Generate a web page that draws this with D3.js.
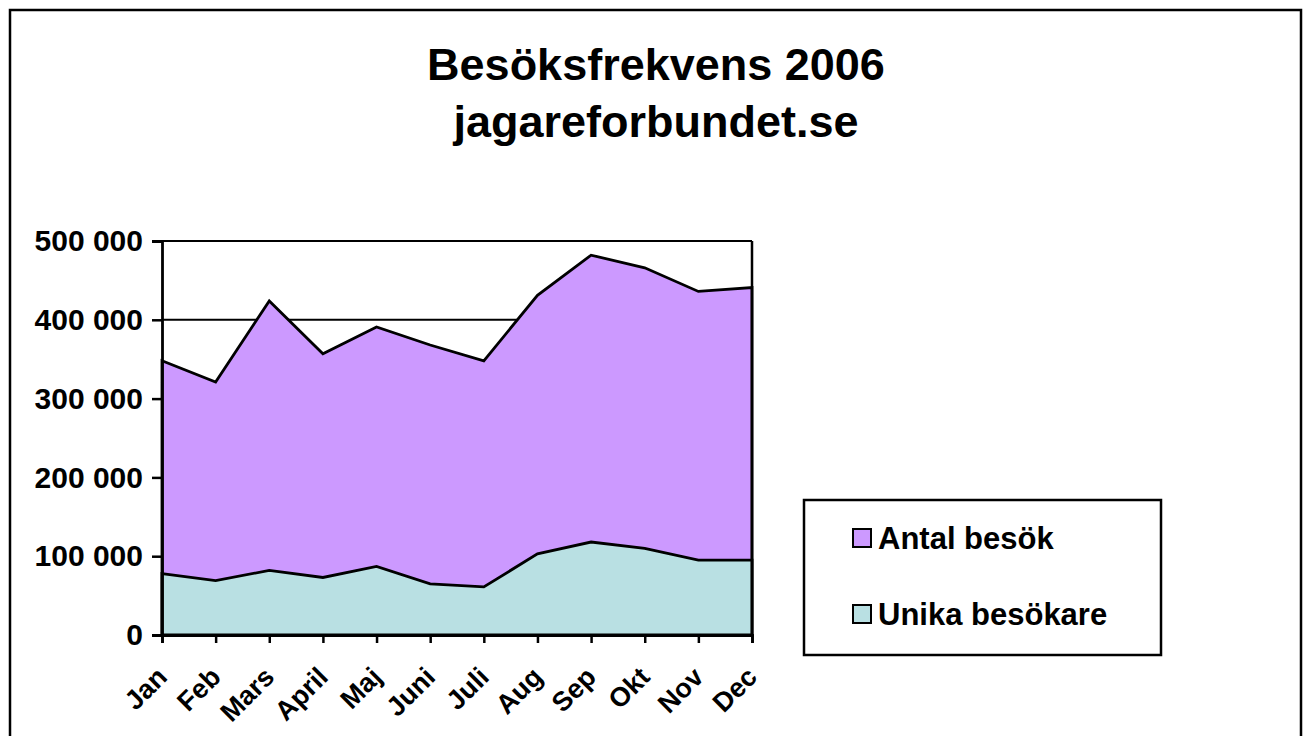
<!DOCTYPE html>
<html>
<head>
<meta charset="utf-8">
<script src="https://cdn.jsdelivr.net/npm/d3@7"></script>
<style>
  body { margin: 0; background: #fff; }
  text { font-family: "Liberation Sans", Arial, sans-serif; font-weight: bold; fill: #000; }
</style>
</head>
<body>
<svg id="chart" width="1308" height="736"></svg>
<script>
// data
var months = ["Jan", "Feb", "Mars", "April", "Maj", "Juni", "Juli", "Aug", "Sep", "Okt", "Nov", "Dec"];
var antalBesok = [348000, 321000, 424000, 357000, 391000, 368000, 348000, 431000, 482000, 466000, 436000, 441000];
var unikaBesokare = [78000, 69000, 82000, 73000, 87000, 65000, 61000, 103000, 118000, 110000, 95000, 95000];
var yTicks = [0, 100000, 200000, 300000, 400000, 500000];
var seriesNames = ["Antal besök", "Unika besökare"];
var seriesColors = ["#cc99ff", "#b9e0e3"];

var svg = d3.select("#chart");

// outer chart border
svg.append("rect")
  .attr("x", 10).attr("y", 10)
  .attr("width", 1291).attr("height", 740)
  .attr("fill", "none").attr("stroke", "#000").attr("stroke-width", 2.5);

// title
svg.append("text").attr("x", 656).attr("y", 80)
  .attr("text-anchor", "middle").style("font-size", "45px")
  .text("Besöksfrekvens 2006");
svg.append("text").attr("x", 656).attr("y", 137)
  .attr("text-anchor", "middle").style("font-size", "45px")
  .text("jagareforbundet.se");

var x = d3.scalePoint().domain(months).range([162, 752]);
var y = d3.scaleLinear().domain([0, 500000]).range([635, 241]);

// gridlines
svg.append("g").selectAll("line").data(yTicks.slice(1)).join("line")
  .attr("x1", 162).attr("x2", 752)
  .attr("y1", d => y(d)).attr("y2", d => y(d))
  .attr("stroke", "#000").attr("stroke-width", 2);

var area = d3.area()
  .x((d, i) => x(months[i]))
  .y0(y(0))
  .y1(d => y(d));

[antalBesok, unikaBesokare].forEach(function(vals, k) {
  svg.append("path")
    .datum(vals)
    .attr("d", d => area(d) + "Z")
    .attr("fill", seriesColors[k])
    .attr("stroke", "#000")
    .attr("stroke-width", 2.8)
    .attr("stroke-linejoin", "miter");
});

// plot area right edge
svg.append("line")
  .attr("x1", 752).attr("x2", 752).attr("y1", 241).attr("y2", 635)
  .attr("stroke", "#000").attr("stroke-width", 2.5);

var fmt = d => d3.format(",")(d).replace(/,/g, " ");

var yAxis = svg.append("g")
  .attr("transform", "translate(162,0)")
  .call(d3.axisLeft(y).tickValues(yTicks).tickSize(10).tickPadding(9).tickFormat(fmt));
yAxis.select(".domain").attr("stroke", "#000").attr("stroke-width", 2.8);
yAxis.selectAll(".tick line").attr("stroke", "#000").attr("stroke-width", 2.5);
yAxis.selectAll("text").style("font-size", "30px").attr("font-family", null);

var xAxis = svg.append("g")
  .attr("transform", "translate(0,635)")
  .call(d3.axisBottom(x).tickSize(8).tickFormat(""));
xAxis.select(".domain").attr("stroke", "#000").attr("stroke-width", 2.8);
xAxis.selectAll(".tick line").attr("stroke", "#000").attr("stroke-width", 2.5);

svg.append("g").selectAll("text").data(months).join("text")
  .attr("transform", d => "translate(" + x(d) + ",672) rotate(-45)")
  .attr("text-anchor", "end")
  .attr("dy", "0.35em")
  .style("font-size", "27px")
  .text(d => d);

// legend
var legend = svg.append("g");
legend.append("rect")
  .attr("x", 804).attr("y", 500).attr("width", 357).attr("height", 155)
  .attr("fill", "#fff").attr("stroke", "#000").attr("stroke-width", 2.5);

var items = legend.selectAll("g.item").data(seriesNames).join("g")
  .attr("class", "item")
  .attr("transform", (d, i) => "translate(853," + (538 + i * 76) + ")");
items.append("rect")
  .attr("x", 0).attr("y", -9).attr("width", 18).attr("height", 18)
  .attr("fill", (d, i) => seriesColors[i])
  .attr("stroke", "#000").attr("stroke-width", 2);
items.append("text")
  .attr("x", 25).attr("y", 0).attr("dy", "0.35em")
  .style("font-size", "31px")
  .text(d => d);
</script>
</body>
</html>
